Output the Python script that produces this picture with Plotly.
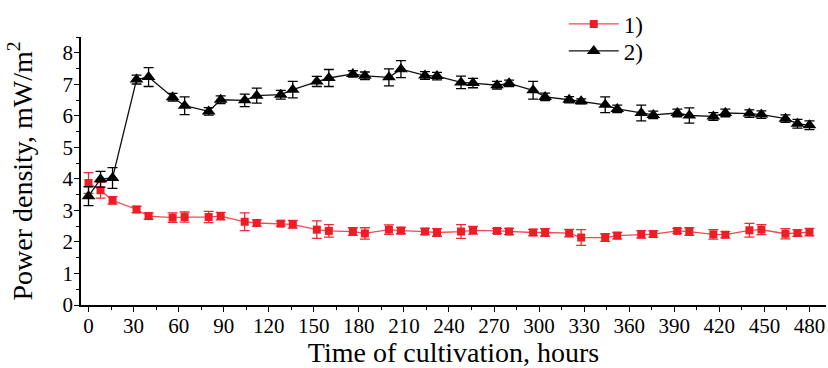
import plotly.graph_objects as go

hours = [0, 8, 16, 32, 40, 56, 64, 80, 88, 104, 112, 128, 136, 152, 160, 176, 184,
         200, 208, 224, 232, 248, 256, 272, 280, 296, 304, 320, 328, 344, 352, 368,
         376, 392, 400, 416, 424, 440, 448, 464, 472, 480]

series1 = [3.87, 3.64, 3.32, 3.03, 2.82, 2.77, 2.79, 2.79, 2.82, 2.64, 2.60, 2.58, 2.56,
           2.39, 2.35, 2.33, 2.27, 2.39, 2.36, 2.33, 2.30, 2.33, 2.37, 2.35, 2.33, 2.30,
           2.30, 2.28, 2.14, 2.14, 2.20, 2.24, 2.25, 2.35, 2.33, 2.24, 2.23, 2.37, 2.39,
           2.26, 2.28, 2.31]
err1 = [0.33, 0.25, 0.12, 0.10, 0.10, 0.15, 0.16, 0.18, 0.12, 0.28, 0.10, 0.08, 0.12,
        0.28, 0.20, 0.12, 0.18, 0.15, 0.10, 0.10, 0.12, 0.22, 0.12, 0.08, 0.10, 0.10,
        0.12, 0.12, 0.25, 0.12, 0.10, 0.12, 0.10, 0.08, 0.12, 0.15, 0.10, 0.22, 0.16,
        0.16, 0.10, 0.12]

series2 = [3.45, 3.99, 4.03, 7.15, 7.23, 6.59, 6.32, 6.14, 6.51, 6.49, 6.64, 6.67, 6.83,
           7.09, 7.20, 7.33, 7.27, 7.22, 7.48, 7.28, 7.26, 7.06, 7.04, 6.97, 7.03, 6.81,
           6.60, 6.51, 6.46, 6.35, 6.22, 6.09, 6.03, 6.09, 6.01, 5.98, 6.09, 6.07, 6.04,
           5.91, 5.75, 5.70]
err2 = [0.30, 0.25, 0.33, 0.14, 0.30, 0.12, 0.28, 0.12, 0.12, 0.20, 0.24, 0.14, 0.26,
        0.16, 0.27, 0.10, 0.12, 0.27, 0.27, 0.12, 0.12, 0.20, 0.15, 0.12, 0.10, 0.28,
        0.12, 0.10, 0.08, 0.25, 0.12, 0.25, 0.12, 0.12, 0.24, 0.12, 0.12, 0.12, 0.12,
        0.12, 0.14, 0.14]

x_ticks = list(range(0, 481, 30))
y_ticks = list(range(0, 9))

FONT = "Liberation Serif"

fig = go.Figure()
fig.add_trace(go.Scatter(
    x=hours, y=series1, name="1)", mode="lines+markers", legend="legend",
    line=dict(color="#f24a50", width=1.3),
    marker=dict(symbol="square", size=8, color="#ee1c25"),
    error_y=dict(type="data", array=err1, visible=True, color="#ee2a32",
                 thickness=1.3, width=5),
))
fig.add_trace(go.Scatter(
    x=hours, y=series2, name="2)", mode="lines+markers", legend="legend2",
    line=dict(color="#111111", width=1.3),
    marker=dict(symbol="triangle-up", size=12, color="#000000"),
    error_y=dict(type="data", array=err2, visible=True, color="#000000",
                 thickness=1.3, width=5),
))

leg_common = dict(x=0.648, xanchor="left", yanchor="middle",
                  bgcolor="rgba(0,0,0,0)", font=dict(size=23, family=FONT),
                  itemwidth=50)
fig.update_layout(
    width=828, height=368,
    margin=dict(l=81, r=2, t=37, b=63),
    paper_bgcolor="white", plot_bgcolor="white",
    font=dict(family=FONT, color="black", size=21),
    legend=dict(y=1.0485, **leg_common),
    legend2=dict(y=0.948, **leg_common),
    showlegend=True,
)
fig.update_xaxes(
    range=[-5, 491], tickvals=x_ticks, ticktext=[str(v) for v in x_ticks],
    showline=True, linecolor="black", linewidth=1.5, mirror=False,
    ticks="outside", ticklen=5, tickwidth=1.2, tickcolor="black",
    minor=dict(dtick=15, ticks="outside", ticklen=3, tickwidth=1.2, tickcolor="black"),
    showgrid=False, zeroline=False, automargin=False,
    title=dict(text="Time of cultivation, hours", font=dict(size=28, family=FONT), standoff=0),
    tickfont=dict(size=21, family=FONT), ticklabelstandoff=-4,
)
fig.update_yaxes(
    range=[0, 8.5], tickvals=y_ticks, ticktext=[str(v) for v in y_ticks],
    showline=True, linecolor="black", linewidth=1.5, mirror=False,
    ticks="outside", ticklen=5, tickwidth=1.2, tickcolor="black",
    minor=dict(dtick=0.5, ticks="outside", ticklen=3, tickwidth=1.2, tickcolor="black"),
    showgrid=False, zeroline=False, automargin=False,
    title=dict(text="Power density, mW/m<sup>2</sup>", font=dict(size=28, family=FONT), standoff=22),
    tickfont=dict(size=21, family=FONT), ticklabelstandoff=-3,
)

fig.write_html("out.html", config={"displayModeBar": False},
               post_script="document.body.style.margin='0px';")
